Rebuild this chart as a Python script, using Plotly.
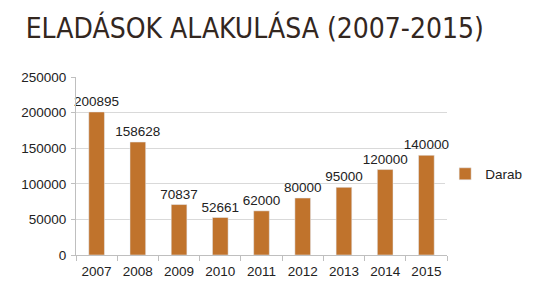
import plotly.graph_objects as go

years = ["2007", "2008", "2009", "2010", "2011", "2012", "2013", "2014", "2015"]
darab = [200895, 158628, 70837, 52661, 62000, 80000, 95000, 120000, 140000]
series_name = "Darab"
y_ticks = [0, 50000, 100000, 150000, 200000, 250000]

fig = go.Figure()
fig.add_trace(go.Bar(
    x=years, y=darab, name=series_name,
    marker=dict(color="#C0732C"),
    text=[str(v) for v in darab], textposition="outside",
    constraintext="none",
    textfont=dict(family="Liberation Sans, Arial", size=13.5, color="#222222"),
    cliponaxis=False,
    showlegend=True,
))

fig.update_layout(
    width=560, height=300,
    margin=dict(l=76, r=113, t=77, b=45),
    paper_bgcolor="white", plot_bgcolor="white",
    bargap=0.62,
    title=dict(
        text="ELADÁSOK ALAKULÁSA (2007-2015)",
        x=0.455, xanchor="center", y=0.905, yanchor="middle",
        font=dict(family="DejaVu Sans Condensed, DejaVu Sans", size=28, color="#33271f"),
    ),
    xaxis=dict(
        showline=True, linecolor="#bfbfbf", linewidth=1,
        ticks="outside", tickson="boundaries", ticklen=5, tickcolor="#bfbfbf",
        tickfont=dict(family="Liberation Sans, Arial", size=13.5, color="#222222"),
        ticklabelstandoff=4,
        showgrid=False,
    ),
    yaxis=dict(
        range=[0, 250000], tickvals=y_ticks, tickformat="d",
        showline=True, linecolor="#bfbfbf", linewidth=1,
        ticks="outside", ticklen=4, tickcolor="#bfbfbf",
        gridcolor="#d9d9d9", gridwidth=1,
        tickfont=dict(family="Liberation Sans, Arial", size=13.5, color="#222222"),
        ticklabelstandoff=2,
        zeroline=False,
    ),
    legend=dict(
        x=0.995, xanchor="left", y=0.455, yanchor="middle",
        font=dict(family="Liberation Sans, Arial", size=13.5, color="#222222"),
        itemwidth=30,
    ),
)

fig.write_html("out.html")
